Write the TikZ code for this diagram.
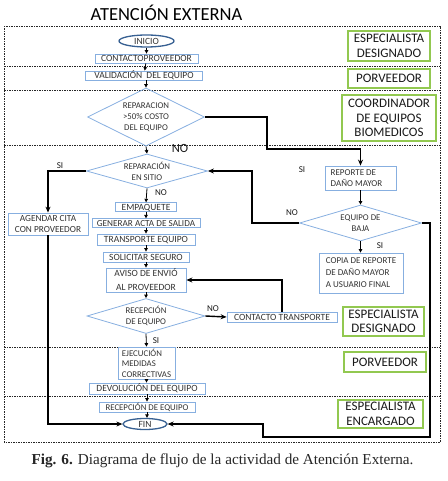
\documentclass[tikz,border=0pt]{standalone}
\usepackage{fontspec}
\setmainfont{Carlito}
\newfontfamily\capfont{Liberation Serif}
\usetikzlibrary{shapes.geometric,arrows.meta}
\definecolor{nblue}{RGB}{135,175,224}
\definecolor{eblue}{RGB}{55,96,146}
\definecolor{lgreen}{RGB}{146,200,80}
\definecolor{ntext}{RGB}{50,50,50}
\begin{document}
\begin{tikzpicture}[x=1pt,y=-1pt,
  box/.style={draw=nblue, line width=0.8pt, inner sep=0pt, text=ntext, align=center, font=\fontsize{9.5}{11}\selectfont},
  one/.style={text height=6.5pt, text depth=0.5pt},
  dia/.style={shape=diamond, draw=nblue, line width=0.8pt, inner sep=0pt, text=ntext, align=center, font=\fontsize{8.8}{11}\selectfont},
  term/.style={shape=ellipse, draw=eblue, line width=1.3pt, inner sep=0pt, text=ntext, font=\fontsize{9.5}{11}\selectfont},
  lane/.style={draw=lgreen, line width=1.8pt, inner sep=0pt, align=center, text=black!90, font=\fontsize{13}{14.5}\selectfont},
  lanesep/.style={black!85, line width=0.7pt, dash pattern=on 1.5pt off 1pt},
  arr/.style={-{Triangle[length=3.5pt,width=3.5pt]}, line width=0.8pt, black},
  route/.style={-{Stealth[length=6pt,width=5pt]}, line width=1.4pt, black},
  lbl/.style={font=\fontsize{9}{9}\selectfont, text=black!90, inner sep=0pt}
]
\useasboundingbox (0,0) rectangle (447,481);

% title and caption
\node (title) at (166.5,13) {\fontsize{18.5}{18.5}\selectfont ATENCIÓN EXTERNA};
\node[text=black!85] (cap) at (222.5,461) {\capfont\fontsize{15.2}{15.2}\selectfont\textbf{Fig. 6.} Diagrama de flujo de la actividad de Atención Externa.};

% swimlane frame
\draw[lanesep] (4,26) rectangle (440,442);
\foreach \yy in {66,90,145,347,396} \draw[lanesep] (4,\yy) -- (440,\yy);

% lane labels
\node[lane, minimum width=82pt, minimum height=30pt] (l1) at (389,46) {ESPECIALISTA\\DESIGNADO};
\node[lane, minimum width=82pt, minimum height=19pt] (l2) at (389,78.5) {PORVEEDOR};
\node[lane, minimum width=94pt, minimum height=46pt] (l3) at (389,118) {COORDINADOR\\DE EQUIPOS\\BIOMEDICOS};
\node[lane, minimum width=81pt, minimum height=29pt] (l4) at (383.5,321.5) {ESPECIALISTA\\DESIGNADO};
\node[lane, minimum width=82pt, minimum height=20pt] (l5) at (385,362) {PORVEEDOR};
\node[lane, minimum width=85pt, minimum height=28pt] (l6) at (380.5,414) {ESPECIALISTA\\ENCARGADO};

% main column
\node[term, minimum width=55pt, minimum height=12pt] (ini) at (146.5,41) {INICIO};
\node[box, one, minimum width=103pt, minimum height=9pt] (con) at (146.5,58.5) {CONTACTOPROVEEDOR};
\node[box, one, minimum width=117pt, minimum height=9pt] (val) at (144,75.5) {VALIDACIÓN\ \ DEL EQUIPO};
\node[dia, aspect=2, minimum width=117pt, minimum height=58pt] (d1) at (146,117) {REPARACION\\>50\% COSTO\\DEL EQUIPO};
\node[dia, aspect=3.5, minimum width=121pt, minimum height=34pt] (d2) at (147,171) {REPARACIÓN\\EN SITIO};
\node[box, one, minimum width=61pt, minimum height=8.5pt] (emp) at (146,207) {EMPAQUETE};
\node[box, one, minimum width=108pt, minimum height=8.5pt, font=\fontsize{9.2}{11}\selectfont] (gen) at (146,223) {GENERAR ACTA DE SALIDA};
\node[box, one, minimum width=98pt, minimum height=11pt] (tra) at (146,239.5) {TRANSPORTE EQUIPO};
\node[box, one, minimum width=86pt, minimum height=10pt] (sol) at (146,257) {SOLICITAR SEGURO};
\node[box, minimum width=80pt, minimum height=24pt, font=\fontsize{9.5}{14}\selectfont] (avi) at (146,280) {AVISO DE ENVIÓ\\AL PROVEEDOR};
\node[dia, aspect=3.4, minimum width=118pt, minimum height=35pt] (d3) at (146,316) {RECEPCIÓN\\DE EQUIPO};
\node[box, minimum width=57pt, minimum height=32pt, align=left, font=\fontsize{8.8}{10.5}\selectfont] (eje) at (146.5,363) {EJECUCIÓN\\MEDIDAS\\CORRECTIVAS};
\node[box, one, minimum width=116pt, minimum height=11pt] (dev) at (147,388.5) {DEVOLUCIÓN DEL EQUIPO};
\node[box, one, minimum width=96pt, minimum height=10pt, font=\fontsize{8.8}{11}\selectfont] (rec) at (147,407) {RECEPCIÓN DE EQUIPO};
\node[term, minimum width=44pt, minimum height=11pt] (fin) at (145,424) {FIN};

% side nodes
\node[box, minimum width=80pt, minimum height=22pt, font=\fontsize{9.3}{11}\selectfont] (age) at (48,224) {AGENDAR CITA\\CON PROVEEDOR};
\node[box, one, minimum width=110pt, minimum height=10pt] (ctr) at (282,317) {CONTACTO TRANSPORTE};
\node[box, minimum width=71pt, minimum height=24pt, align=left, font=\fontsize{9}{10.5}\selectfont] (rep) at (360.5,178) {REPORTE DE\\DAÑO MAYOR\hspace*{8pt}};
\node[dia, aspect=3.5, minimum width=122pt, minimum height=36pt] (baj) at (360.5,223) {EQUIPO DE\\BAJA};
\node[box, minimum width=84pt, minimum height=40pt, align=left, font=\fontsize{9}{12}\selectfont] (cop) at (361,273) {COPIA DE REPORTE\\DE DAÑO MAYOR\\A USUARIO FINAL};

% route helper coordinates
\coordinate (c1) at (267,149);
\coordinate (c2) at (252,171);
\coordinate (c3) at (430,437);
\coordinate (c4) at (263,424);

% straight arrows
\draw[arr] (ini) -- (con);
\draw[arr] (con) -- (val);
\draw[arr] (val.south -| d1.north) -- (d1.north);
\draw[arr] (d1.south) -- (d2.north);
\draw[arr] (d2.south) -- (emp.north);
\draw[arr] (emp) -- (gen);
\draw[arr] (gen) -- (tra);
\draw[arr] (tra) -- (sol);
\draw[arr] (sol) -- (avi);
\draw[arr] (avi.south) -- (d3.north);
\draw[arr] (d3.south) -- (eje.north);
\draw[arr] (eje.south) -- (eje.south |- dev.north);
\draw[arr] (dev.south) -- (dev.south |- rec.north);
\draw[arr] (rec.south) -- (rec.south |- fin.north);
\draw[arr] (rep) -- (baj);
\draw[arr] (baj.south) -- (baj.south |- cop.north);

% routed connectors
\draw[route] (d1.east) -| (c1) -| (rep.north);
\draw[route] (baj.west) -| (c2) -- (d2.east);
\draw[route] (baj.east) -| (c3) -| (c4) -- (fin.east);
\draw[route] (d2.west) -| (age.north);
\draw[route] (age.south) |- (fin.west);
\draw[route] (d3.east) -- (ctr.west);
\draw[route] (ctr.north) |- (avi.east);

% labels
\node[lbl, font=\fontsize{12.5}{12.5}\selectfont] (n1) at (180,148) {NO};
\node[lbl] (s1) at (302,170) {SI};
\node[lbl] (s2) at (60,166) {SI};
\node[lbl] (n2) at (161,193) {NO};
\node[lbl] (n3) at (292,213) {NO};
\node[lbl] (s3) at (380,246) {SI};
\node[lbl] (n4) at (213,309) {NO};
\node[lbl] (s4) at (156,341) {SI};
\end{tikzpicture}
\end{document}
